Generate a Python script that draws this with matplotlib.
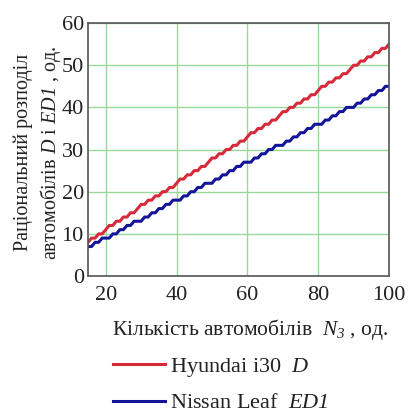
import matplotlib
matplotlib.use("Agg")
import matplotlib.pyplot as plt
from matplotlib.lines import Line2D

plt.rcParams['font.family'] = ['Liberation Serif', 'DejaVu Serif']
plt.rcParams['mathtext.fontset'] = 'custom'
plt.rcParams['mathtext.rm'] = 'Liberation Serif'
plt.rcParams['mathtext.it'] = 'Liberation Serif:italic'
plt.rcParams['mathtext.sf'] = 'Liberation Serif:italic'

# Data
n_cars = list(range(15, 101))
hyundai_d = [8, 9, 9, 10, 10, 11, 12, 12, 13, 13, 14, 14, 15, 15, 16, 17, 17, 18, 18, 19,
             19, 20, 20, 21, 21, 22, 23, 23, 24, 24, 25, 25, 26, 26, 27, 28, 28, 29, 29, 30,
             30, 31, 31, 32, 32, 33, 34, 34, 35, 35, 36, 36, 37, 37, 38, 39, 39, 40, 40, 41,
             41, 42, 42, 43, 43, 44, 45, 45, 46, 46, 47, 47, 48, 48, 49, 50, 50, 51, 51, 52,
             52, 53, 53, 54, 54, 55]
nissan_ed1 = [7, 7, 8, 8, 9, 9, 9, 10, 10, 11, 11, 12, 12, 13, 13, 13, 14, 14, 15, 15,
              16, 16, 17, 17, 18, 18, 18, 19, 19, 20, 20, 21, 21, 22, 22, 22, 23, 23, 24, 24,
              25, 25, 26, 26, 27, 27, 27, 28, 28, 29, 29, 30, 30, 31, 31, 31, 32, 32, 33, 33,
              34, 34, 35, 35, 36, 36, 36, 37, 37, 38, 38, 39, 39, 40, 40, 40, 41, 41, 42, 42,
              43, 43, 44, 44, 45, 45]
x_ticks = [20, 40, 60, 80, 100]
y_ticks = [0, 10, 20, 30, 40, 50, 60]

fig = plt.figure(figsize=(4.14, 4.12), dpi=100)
ax = fig.add_axes([0.2126, 0.330, 0.727, 0.614])

red = '#d62a3a'
blue = '#14149a'
ax.plot(n_cars, hyundai_d, color=red, lw=2.2, solid_joinstyle='round')
ax.plot(n_cars, nissan_ed1, color=blue, lw=2.2, solid_joinstyle='round')

ax.set_xlim(15, 100)
ax.set_ylim(0, 60)
ax.set_xticks(x_ticks)
ax.set_yticks(y_ticks)
ax.grid(True, color='#9ad89a', lw=1.0)
ax.set_axisbelow(True)
ax.tick_params(length=0, labelsize=16, colors='#222222')
ax.tick_params(axis='x', pad=7)
ax.tick_params(axis='y', pad=3)
for s in ax.spines.values():
    s.set_color('#555555')
    s.set_linewidth(1.2)

ax.set_xlabel(r'Кількість автомобілів  $N_{\mathsf{3}}$ , од.', fontsize=15.5,
              color='#222222')
ax.xaxis.set_label_coords(0.538, -0.16)
ax.xaxis.label.set_va('top')
ax.set_ylabel('Раціональний розподіл\n' + r'автомобілів $D$ і $\mathsf{ED1}$ , од.',
              fontsize=14.5, color='#222222', linespacing=1.3)
ax.yaxis.set_label_coords(-0.082, 0.487)
ax.yaxis.label.set_va('bottom')

handles = [Line2D([], [], color=red, lw=2.2), Line2D([], [], color=blue, lw=2.2)]
labels = [r'Hyundai i30  $D$', r'Nissan Leaf  $\mathsf{ED1}$']
fig.legend(handles, labels, loc='upper left', bbox_to_anchor=(0.273, 0.136),
           frameon=False, fontsize=16, handlelength=2.35, handletextpad=0.2,
           labelspacing=0.62, borderaxespad=0, borderpad=0, labelcolor='#222222')

fig.savefig('out.png', dpi=100)
